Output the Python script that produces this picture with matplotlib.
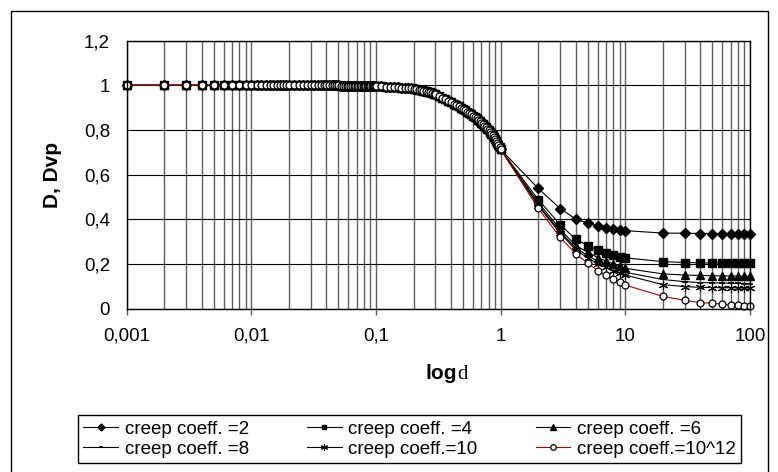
import numpy as np
import matplotlib
matplotlib.use("Agg")
import matplotlib.pyplot as plt
from matplotlib.ticker import FuncFormatter, LogLocator, NullFormatter, MultipleLocator
from matplotlib.patches import Rectangle

plt.rcParams['font.family'] = ['Liberation Sans', 'DejaVu Sans']

# common part of all curves (d <= 1), sampled like the source table
d_common = np.concatenate([np.arange(1, 10) / 1000,
                           np.arange(10, 21) / 1000,
                           np.arange(22, 99, 2) / 1000,
                           np.arange(10, 31) / 100,
                           np.arange(32, 101, 2) / 100])
D_common = ([1.0] * 9 + [1.0] * 11 +
            [1.0] * 15 + [0.999] * 12 + [0.998] * 8 + [0.997] * 4 +
            [0.996, 0.995, 0.994, 0.993, 0.992, 0.991, 0.990, 0.989, 0.988, 0.987,
             0.985, 0.983, 0.981, 0.979, 0.976, 0.974, 0.971, 0.968, 0.965, 0.962, 0.959] +
            [0.952, 0.945, 0.938, 0.931, 0.924, 0.918, 0.912, 0.906, 0.900, 0.894,
             0.888, 0.882, 0.876, 0.870, 0.864, 0.858, 0.852, 0.846, 0.840, 0.833,
             0.827, 0.820, 0.813, 0.806, 0.799, 0.792, 0.784, 0.776, 0.767, 0.758,
             0.749, 0.740, 0.731, 0.722, 0.713])

# curves split after d = 1
d_tail = [2, 3, 4, 5, 6, 7, 8, 9, 10, 20, 30, 40, 50, 60, 70, 80, 90, 100]
D_c2 = [0.538, 0.448, 0.401, 0.382, 0.370, 0.360, 0.354, 0.351, 0.349,
        0.338, 0.337, 0.336, 0.336, 0.335, 0.335, 0.335, 0.335, 0.334]
D_c4 = [0.488, 0.376, 0.310, 0.282, 0.262, 0.250, 0.239, 0.232, 0.227,
        0.210, 0.206, 0.205, 0.204, 0.203, 0.203, 0.202, 0.202, 0.202]
D_c6 = [0.475, 0.355, 0.282, 0.252, 0.228, 0.212, 0.200, 0.190, 0.180,
        0.155, 0.150, 0.148, 0.147, 0.146, 0.146, 0.145, 0.145, 0.145]
D_c8 = [0.465, 0.345, 0.270, 0.237, 0.212, 0.195, 0.182, 0.171, 0.162,
        0.130, 0.120, 0.116, 0.115, 0.114, 0.113, 0.113, 0.112, 0.112]
D_c10 = [0.460, 0.338, 0.262, 0.227, 0.201, 0.184, 0.170, 0.159, 0.150,
         0.107, 0.098, 0.095, 0.094, 0.093, 0.093, 0.092, 0.092, 0.091]
D_cinf = [0.449, 0.319, 0.245, 0.203, 0.170, 0.148, 0.132, 0.117, 0.105,
          0.054, 0.037, 0.026, 0.024, 0.019, 0.016, 0.014, 0.013, 0.012]

labels = ["creep coeff. =2", "creep coeff. =4", "creep coeff. =6",
          "creep coeff. =8", "creep coeff.=10", "creep coeff.=10^12"]
tails = [D_c2, D_c4, D_c6, D_c8, D_c10, D_cinf]

W, H = 778, 472
fig = plt.figure(figsize=(W / 100, H / 100), dpi=100)
ax = fig.add_axes([126.7 / W, 1 - 308.5 / H, (750 - 126.7) / W, (308.5 - 40.7) / H])

styles = [
    dict(marker='D', markersize=5.0, color='black', mfc='black', mec='black'),
    dict(marker='s', markersize=5.6, color='black', mfc='black', mec='black'),
    dict(marker='^', markersize=5.6, color='black', mfc='black', mec='black'),
    dict(marker='_', markersize=4.5, color='black', mec='black', mew=1.2),
    dict(marker=(6, 2, 0), markersize=6.5, color='black', mec='black', mew=0.8),
    dict(marker='o', markersize=5.0, color='#b00000', mfc='white', mec='black', mew=0.9),
]
leg_sizes = [3.5, 3.5, 4.5, 3.5, 5.0, 4.0]

handles = []
x_all = np.concatenate([d_common, d_tail])
for lab, tail, st in zip(labels, tails, styles):
    y_all = np.concatenate([D_common, tail])
    h, = ax.plot(x_all, y_all, lw=0.8, clip_on=False, label=lab, **st)
    handles.append(h)

ax.set_xscale('log')
ax.set_xlim(0.001, 100)
ax.set_ylim(0, 1.2)
ax.yaxis.set_major_locator(MultipleLocator(0.2))
ax.xaxis.set_major_locator(LogLocator(base=10))
ax.xaxis.set_minor_locator(LogLocator(base=10, subs=np.arange(2, 10)))
ax.xaxis.set_minor_formatter(NullFormatter())
fmt = FuncFormatter(lambda v, p: ('%g' % v).replace('.', ','))
ax.xaxis.set_major_formatter(fmt)
ax.yaxis.set_major_formatter(fmt)

ax.grid(which='both', axis='x', color='#5e5e5e', lw=1.0)
ax.grid(which='major', axis='y', color='black', lw=0.8)
ax.set_axisbelow(True)
for sp in ax.spines.values():
    sp.set_color('black')
    sp.set_linewidth(1.0)

ax.tick_params(axis='x', which='major', direction='out', length=4, width=1,
               color='#5e5e5e', labelsize=13.5, pad=10)
ax.tick_params(axis='x', which='minor', length=0)
ax.tick_params(axis='y', which='major', length=0, labelsize=13.5, pad=12)

fig.text(53 / W, 1 - 175 / H, "D, Dvp", rotation=90, ha='center', va='center',
         fontsize=15, fontweight='bold')
fig.text(457 / W, 1 - 379 / H, "log", ha='right', va='baseline',
         fontsize=15, fontweight='bold')
fig.text(457 / W, 1 - 379 / H, "d", ha='left', va='baseline',
         fontsize=15, family='Liberation Serif')

order = [0, 3, 1, 4, 2, 5]
leg = fig.legend([handles[i] for i in order], [labels[i] for i in order],
                 ncol=3, loc='center', bbox_to_anchor=(409.5 / W, 1 - 439 / H),
                 bbox_transform=fig.transFigure, fontsize=13.5, frameon=True,
                 fancybox=False, edgecolor='black', framealpha=1,
                 handlelength=1.85, handletextpad=0.35, columnspacing=3.1,
                 labelspacing=0.15, borderpad=0.3, borderaxespad=0)
leg.get_frame().set_linewidth(1.0)
for lh, s in zip(leg.legend_handles, [leg_sizes[i] for i in order]):
    lh.set_markersize(s)

fig.patches.append(Rectangle((10.5 / W, -0.05), (767.5 - 10.5) / W, 1 - 10.5 / H + 0.05,
                             transform=fig.transFigure, fill=False, lw=1.0,
                             ec='black'))

fig.savefig('out.png', dpi=100)
